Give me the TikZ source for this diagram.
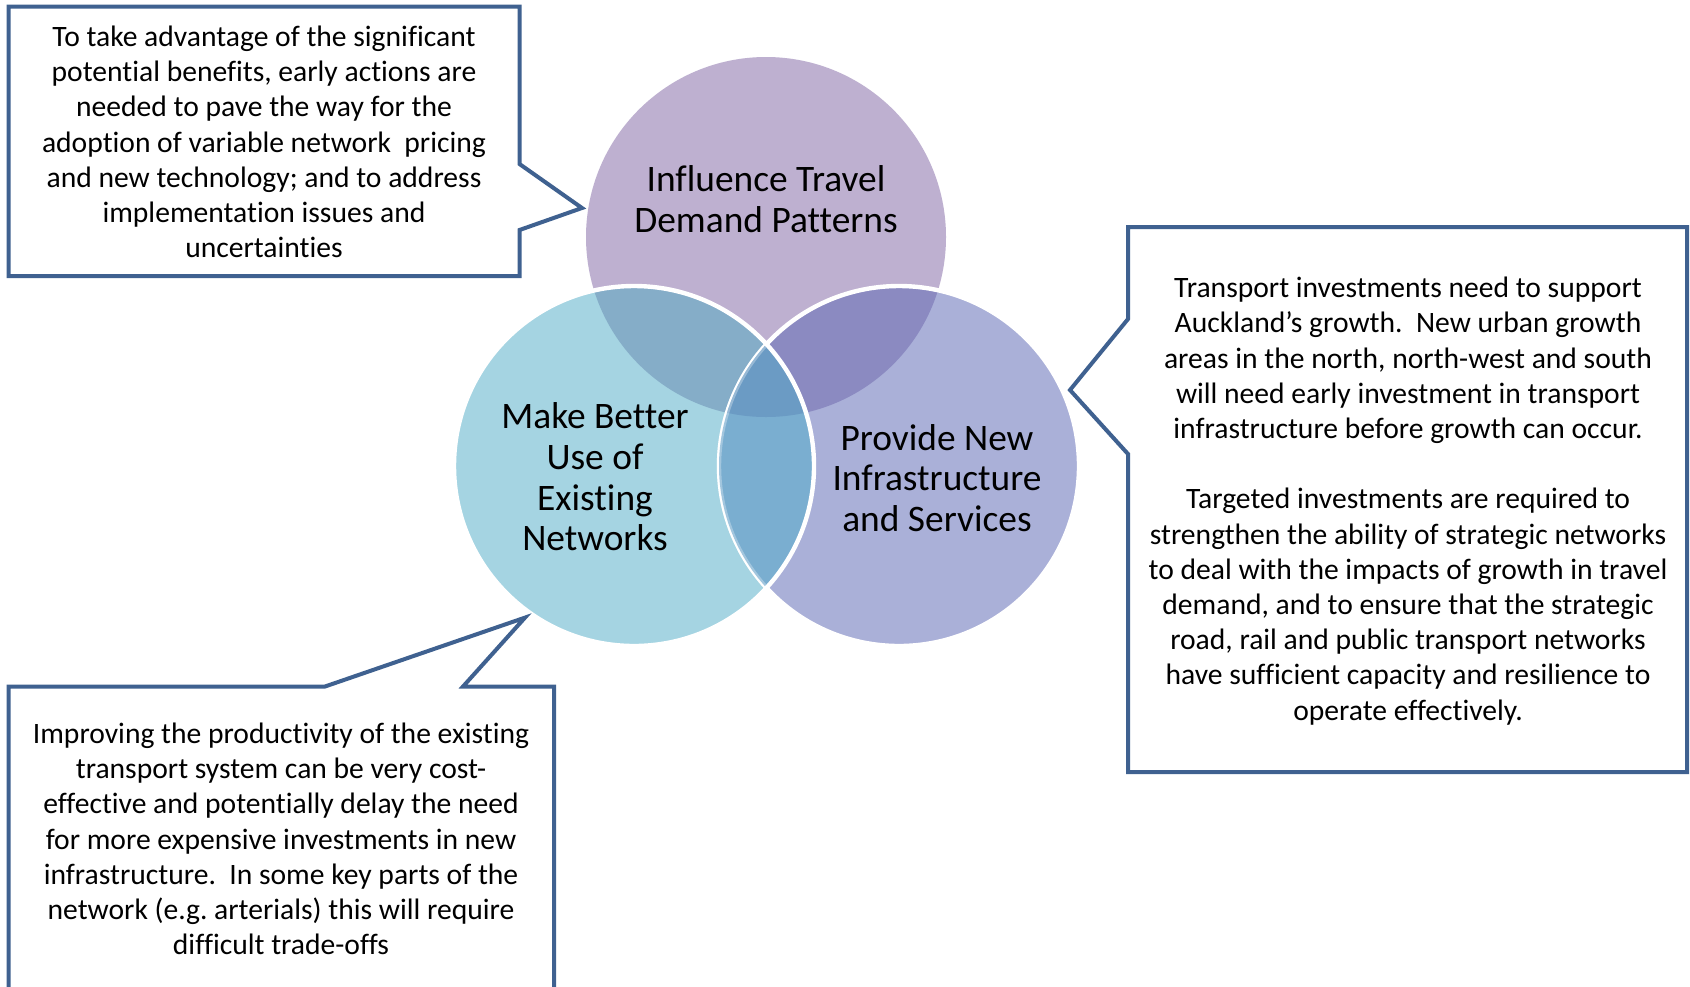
\documentclass[tikz,border=0pt]{standalone}
\usepackage{fontspec}
\setmainfont{Carlito}[Ligatures=NoCommon]
\frenchspacing
\definecolor{cPur}{HTML}{BEB0D0}
\definecolor{cCyan}{HTML}{A5D4E2}
\definecolor{cLav}{HTML}{AAB0D8}
\definecolor{cTL}{HTML}{85ADC8}
\definecolor{cTR}{HTML}{8B8AC1}
\definecolor{cLR}{HTML}{7AAED0}
\definecolor{cMid}{HTML}{6B9BC4}
\definecolor{cBorder}{HTML}{3F6190}
\tikzset{
  callout/.style={draw=cBorder, line width=2pt, fill=white, line join=miter},
  calltext/.style={align=center, inner sep=0pt, font=\fontsize{14.8}{17.6}\selectfont},
  circtext/.style={align=center, inner sep=0pt, font=\fontsize{18.7}{20.3}\selectfont},
  ring/.style={draw=white, line width=2.2pt}
}
\begin{document}
\begin{tikzpicture}[x=0.5pt,y=-0.5pt]
\useasboundingbox (0,0) rectangle (1690,986);
\clip (0,0) rectangle (1690,986);
\fill[white] (0,0) rectangle (1690,986);
% circle centres
\coordinate (T) at (766,237);
\coordinate (L) at (634,466);
\coordinate (R) at (899,466);
% base fills
\fill[cPur] (T) circle[radius=90pt];
\fill[cLav] (R) circle[radius=90pt];
\fill[cCyan] (L) circle[radius=90pt];
\begin{scope}
  \clip (T) circle[radius=90pt];
  \fill[cTL] (L) circle[radius=90pt];
  \fill[cTR] (R) circle[radius=90pt];
\end{scope}
% outlines and inner overlaps
\draw[ring] (R) circle[radius=90pt];
\begin{scope}
  \clip (L) circle[radius=90pt];
  \fill[cLR] (R) circle[radius=90pt];
  \begin{scope}
    \clip (T) circle[radius=90pt];
    \fill[cMid] (R) circle[radius=90pt];
  \end{scope}
  \draw[white, opacity=0.3, line width=2.2pt] (R) circle[radius=90pt];
\end{scope}
\draw[ring] (L) circle[radius=90pt];
% circle labels
\node[circtext] (lt) at (766,199) {Influence Travel\\Demand Patterns};
\node[circtext] (ll) at (595,477) {Make Better\\Use of\\Existing\\Networks};
\node[circtext] (lr) at (937,478) {Provide New\\Infrastructure\\and Services};
% callouts
\draw[callout] (8.6,6.5) -- (519.5,6.5) -- (519.5,164) -- (582,208) -- (519.5,230) -- (519.5,276) -- (8.6,276) -- cycle;
\draw[callout] (1128,227) -- (1687,227) -- (1687,772) -- (1128,772) -- (1128,454) -- (1070,390) -- (1128,319) -- cycle;
\draw[callout] (8.6,1010) -- (8.6,686.5) -- (325,686.5) -- (525,617.6) -- (463,686.5) -- (554,686.5) -- (554,1010);
% callout texts
\node[calltext] (c1) at (264,142) {To take advantage of the significant\\potential benefits, early actions are\\needed to pave the way for the\\adoption of variable network~ pricing\\and new technology; and to address\\implementation issues and\\uncertainties};
\node[calltext] (c2) at (1408,501) {Transport investments need to support\\Auckland’s growth.~ New urban growth\\areas in the north, north-west and south\\will need early investment in transport\\infrastructure before growth can occur.\\[17.6pt]Targeted investments are required to\\strengthen the ability of strategic networks\\to deal with the impacts of growth in travel\\demand, and to ensure that the strategic\\road, rail and public transport networks\\have sufficient capacity and resilience to\\operate effectively.};
\node[calltext] (c3) at (281,839) {Improving the productivity of the existing\\transport system can be very cost-\\effective and potentially delay the need\\for more expensive investments in new\\infrastructure.~ In some key parts of the\\network (e.g. arterials) this will require\\difficult trade-offs};
\end{tikzpicture}
\end{document}
